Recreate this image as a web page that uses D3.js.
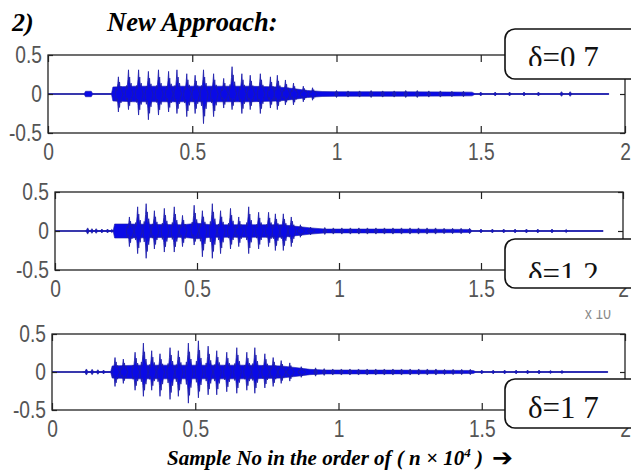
<!DOCTYPE html>
<html>
<head>
<meta charset="utf-8">
<script src="https://cdn.jsdelivr.net/npm/d3@7"></script>
<style>
  body { margin: 0; background: #fff; }
</style>
</head>
<body>
<svg id="chart" width="631" height="470"></svg>
<script>
// axis ticks (x in units of 10^4 samples)
const xTicks = [0, 0.5, 1, 1.5, 2]
const xTickLabels = ['0', '0.5', '1', '1.5', '2']
const yTicks = [-0.5, 0, 0.5]
const yTickLabels = ['-0.5', '0', '0.5']
const deltaLabels = ['δ=0 7', 'δ=1 2', 'δ=1 7']
const signalEnd = [1.944, 1.93, 1.94]

// delta = 0.7 : core envelope, syllable peaks, small beads
const env1X = [0, 0.125, 0.13, 0.15, 0.155, 0.22, 0.225, 0.3, 0.4, 0.5, 0.6, 0.7, 0.8, 0.85, 0.9, 0.95, 1.0, 1.2, 1.4, 1.47, 1.48, 1.944]
const env1A = [0, 0, 0.035, 0.035, 0.004, 0.004, 0.09, 0.1, 0.1, 0.1, 0.1, 0.1, 0.09, 0.07, 0.045, 0.032, 0.03, 0.03, 0.026, 0.024, 0.004, 0.004]
const spike1X = [0.244, 0.279, 0.314, 0.348, 0.383, 0.418, 0.447, 0.481, 0.510, 0.539, 0.574, 0.609, 0.638, 0.672, 0.701, 0.736, 0.771, 0.795, 0.823, 0.851, 0.885, 0.917]
const spike1Up = [0.22, 0.31, 0.31, 0.29, 0.31, 0.29, 0.31, 0.26, 0.24, 0.31, 0.26, 0.2, 0.35, 0.26, 0.24, 0.26, 0.22, 0.24, 0.18, 0.14, 0.1, 0.08]
const spike1Down = [0.23, 0.2, 0.27, 0.33, 0.27, 0.23, 0.25, 0.29, 0.25, 0.38, 0.29, 0.18, 0.2, 0.25, 0.2, 0.25, 0.18, 0.2, 0.14, 0.14, 0.1, 0.08]
const bead1X = [1.0, 1.04, 1.08, 1.12, 1.16, 1.2, 1.24, 1.28, 1.32, 1.36, 1.4, 1.44, 1.5, 1.55, 1.6, 1.65, 1.7, 1.78, 1.81]
const bead1A = [0.045, 0.04, 0.04, 0.045, 0.04, 0.04, 0.045, 0.045, 0.04, 0.04, 0.035, 0.035, 0.025, 0.025, 0.025, 0.025, 0.025, 0.03, 0.03]

// delta = 1.2
const env2X = [0, 0.105, 0.11, 0.205, 0.21, 0.25, 0.45, 0.5, 0.55, 0.8, 0.85, 0.9, 0.95, 1.2, 1.46, 1.47, 1.93]
const env2A = [0, 0, 0.006, 0.006, 0.09, 0.09, 0.08, 0.1, 0.08, 0.08, 0.06, 0.04, 0.025, 0.025, 0.02, 0.004, 0.004]
const spike2X = [0.262, 0.291, 0.321, 0.350, 0.385, 0.420, 0.449, 0.490, 0.519, 0.554, 0.583, 0.618, 0.647, 0.682, 0.717, 0.752, 0.776, 0.804, 0.832, 0.864, 0.9]
const spike2Up = [0.18, 0.31, 0.35, 0.26, 0.29, 0.31, 0.2, 0.33, 0.26, 0.35, 0.26, 0.29, 0.18, 0.31, 0.24, 0.24, 0.22, 0.22, 0.18, 0.08, 0.05]
const spike2Down = [0.2, 0.29, 0.35, 0.23, 0.27, 0.27, 0.2, 0.18, 0.33, 0.35, 0.29, 0.23, 0.2, 0.29, 0.23, 0.2, 0.25, 0.25, 0.2, 0.08, 0.05]
const bead2X = [0.115, 0.13, 0.145, 0.165, 0.185, 0.2, 0.95, 0.98, 1.01, 1.04, 1.07, 1.10, 1.13, 1.16, 1.19, 1.22, 1.25, 1.28, 1.31, 1.34, 1.37, 1.40, 1.43, 1.46, 1.5, 1.54, 1.58, 1.62, 1.66, 1.7, 1.75, 1.8]
const bead2A = [0.04, 0.03, 0.03, 0.025, 0.025, 0.02, 0.045, 0.04, 0.04, 0.04, 0.04, 0.04, 0.04, 0.04, 0.04, 0.04, 0.04, 0.04, 0.04, 0.04, 0.035, 0.035, 0.035, 0.035, 0.025, 0.025, 0.025, 0.025, 0.025, 0.025, 0.025, 0.02]

// delta = 1.7
const env3X = [0, 0.105, 0.11, 0.205, 0.21, 0.3, 0.5, 0.7, 0.8, 0.87, 0.9, 0.95, 1.2, 1.47, 1.48, 1.94]
const env3A = [0, 0, 0.005, 0.005, 0.08, 0.09, 0.09, 0.09, 0.08, 0.05, 0.035, 0.026, 0.025, 0.02, 0.004, 0.004]
const spike3X = [0.220, 0.249, 0.290, 0.319, 0.348, 0.377, 0.412, 0.441, 0.476, 0.511, 0.545, 0.575, 0.610, 0.645, 0.680, 0.708, 0.743, 0.772, 0.80, 0.83, 0.87]
const spike3Up = [0.19, 0.17, 0.26, 0.38, 0.28, 0.24, 0.32, 0.28, 0.38, 0.41, 0.34, 0.28, 0.26, 0.32, 0.26, 0.32, 0.24, 0.19, 0.15, 0.12, 0.07]
const spike3Down = [0.19, 0.15, 0.24, 0.32, 0.24, 0.32, 0.36, 0.32, 0.41, 0.34, 0.30, 0.30, 0.26, 0.28, 0.24, 0.28, 0.21, 0.19, 0.15, 0.12, 0.07]
const bead3X = [0.12, 0.14, 0.16, 0.18, 0.92, 0.95, 0.98, 1.01, 1.04, 1.07, 1.10, 1.13, 1.16, 1.19, 1.22, 1.25, 1.28, 1.31, 1.34, 1.37, 1.40, 1.43, 1.46, 1.5, 1.54, 1.58, 1.62, 1.66, 1.7, 1.74, 1.78]
const bead3A = [0.04, 0.035, 0.03, 0.025, 0.055, 0.045, 0.04, 0.04, 0.04, 0.04, 0.04, 0.04, 0.04, 0.04, 0.04, 0.04, 0.04, 0.04, 0.04, 0.035, 0.035, 0.035, 0.035, 0.025, 0.025, 0.025, 0.025, 0.025, 0.025, 0.02, 0.02]

// outline of one syllable burst: [dx, fraction of peak]
const burstUp = [[-0.011, 0], [-0.007, 0.35], [-0.005, 0.2], [-0.002, 0.6], [0, 1], [0.002, 0.45], [0.004, 0.7], [0.006, 0.3], [0.009, 0.45], [0.012, 0.15], [0.016, 0]]
const burstDown = [[0.016, 0], [0.012, 0.2], [0.009, 0.5], [0.006, 0.35], [0.004, 0.75], [0.002, 0.5], [0, 1], [-0.002, 0.55], [-0.004, 0.25], [-0.007, 0.4], [-0.011, 0]]

function main() {
    let svg = d3.select('#chart')
    let defs = svg.append('defs')

    let panels = [
        {left: 48, top: 55, width: 577, height: 78, envX: env1X, envA: env1A, sX: spike1X, sUp: spike1Up, sDown: spike1Down, bX: bead1X, bA: bead1A},
        {left: 55, top: 192, width: 568, height: 78, envX: env2X, envA: env2A, sX: spike2X, sUp: spike2Up, sDown: spike2Down, bX: bead2X, bA: bead2A},
        {left: 52, top: 334, width: 573, height: 76, envX: env3X, envA: env3A, sX: spike3X, sUp: spike3Up, sDown: spike3Down, bX: bead3X, bA: bead3A}
    ]

    let narrow = function () {
        let w = this.getComputedTextLength()
        d3.select(this).attr('textLength', w * 0.8).attr('lengthAdjust', 'spacingAndGlyphs')
    }

    panels.forEach((p, k) => {
        let x = d3.scaleLinear().domain([0, 2]).range([p.left, p.left + p.width]),
            y = d3.scaleLinear().domain([-0.5, 0.5]).range([p.top + p.height, p.top])

        defs.append('clipPath').attr('id', 'clip' + k)
            .append('rect')
            .attr('x', p.left).attr('y', p.top)
            .attr('width', p.width).attr('height', p.height)

        let g = svg.append('g').attr('clip-path', 'url(#clip' + k + ')')

        g.append('line')
            .attr('x1', x(0)).attr('x2', x(signalEnd[k]))
            .attr('y1', y(0)).attr('y2', y(0))
            .attr('stroke', '#22229a').attr('stroke-width', 1.3)

        let area = d3.area()
            .x(i => x(p.envX[i]))
            .y0(i => y(-p.envA[i]))
            .y1(i => y(p.envA[i]))
        g.append('path')
            .attr('d', area(d3.range(p.envX.length)))
            .attr('fill', '#0a0ae6')
            .attr('stroke', '#1c1ca8').attr('stroke-width', 0.6)

        g.selectAll('path.bead')
            .data(d3.range(p.bX.length))
            .join('path')
            .attr('class', 'bead')
            .attr('d', i => 'M' + x(p.bX[i] - 0.006) + ',' + y(0)
                + 'L' + x(p.bX[i]) + ',' + y(p.bA[i])
                + 'L' + x(p.bX[i] + 0.006) + ',' + y(0)
                + 'L' + x(p.bX[i]) + ',' + y(-p.bA[i]) + 'Z')
            .attr('fill', '#1414c8')
            .attr('stroke', '#22229a').attr('stroke-width', 0.7)

        g.selectAll('path.spike')
            .data(d3.range(p.sX.length))
            .join('path')
            .attr('class', 'spike')
            .attr('d', i => {
                let pts = burstUp.map(b => [x(p.sX[i] + b[0]), y(p.sUp[i] * b[1])])
                    .concat(burstDown.map(b => [x(p.sX[i] + b[0]), y(-p.sDown[i] * b[1])]))
                return 'M' + pts.map(q => q.join(',')).join('L') + 'Z'
            })
            .attr('fill', '#0a0ae6')
            .attr('stroke', '#1c1ca8').attr('stroke-width', 0.8)

        // frame and inward ticks
        svg.append('rect')
            .attr('x', p.left).attr('y', p.top)
            .attr('width', p.width).attr('height', p.height)
            .attr('fill', 'none').attr('stroke', '#222').attr('stroke-width', 1.3)

        let bottom = svg.append('g')
            .attr('class', 'axis')
            .attr('transform', 'translate(0,' + (p.top + p.height) + ')')
            .call(d3.axisBottom(x).tickValues(xTicks).tickSize(-7).tickPadding(10)
                .tickFormat((d, i) => xTickLabels[i]))
        let top = svg.append('g')
            .attr('transform', 'translate(0,' + p.top + ')')
            .call(d3.axisTop(x).tickValues(xTicks).tickSize(-7).tickFormat(''))
        let left = svg.append('g')
            .attr('class', 'axis')
            .attr('transform', 'translate(' + p.left + ',0)')
            .call(d3.axisLeft(y).tickValues(yTicks).tickSize(-5).tickPadding(6)
                .tickFormat((d, i) => yTickLabels[i]))
        let right = svg.append('g')
            .attr('transform', 'translate(' + (p.left + p.width) + ',0)')
            .call(d3.axisRight(y).tickValues(yTicks).tickSize(-5).tickFormat(''))

        ;[bottom, top, left, right].forEach(a => {
            a.select('.domain').remove()
            a.selectAll('.tick line').attr('stroke', '#222').attr('stroke-width', 1.2)
        })
        ;[bottom, left].forEach(a => {
            a.selectAll('text')
                .attr('font-family', 'Liberation Sans, Arial, sans-serif')
                .attr('font-size', 24)
                .attr('fill', '#555')
                .each(narrow)
        })
    })

    // exponent label under the middle plot, mostly hidden
    defs.append('clipPath').attr('id', 'clipExp')
        .append('rect').attr('x', 570).attr('y', 310).attr('width', 61).attr('height', 12)
    svg.append('text')
        .attr('clip-path', 'url(#clipExp)')
        .attr('x', 585).attr('y', 319)
        .attr('font-family', 'Liberation Sans, Arial, sans-serif')
        .attr('font-size', 17).attr('fill', '#888')
        .text('x 10')
        .each(narrow)

    // delta boxes
    let boxes = [
        {x: 505, y: 29, h: 50, base: 68, clipY: 66},
        {x: 505, y: 239, h: 49, base: 284, clipY: 278},
        {x: 505, y: 379, h: 49, base: 418, clipY: 426}
    ]
    boxes.forEach((b, k) => {
        svg.append('rect')
            .attr('x', b.x).attr('y', b.y)
            .attr('width', 150).attr('height', b.h)
            .attr('rx', 10).attr('ry', 10)
            .attr('fill', '#fff').attr('stroke', '#111').attr('stroke-width', 1.6)
        defs.append('clipPath').attr('id', 'clipBox' + k)
            .append('rect').attr('x', b.x).attr('y', b.y).attr('width', 150).attr('height', b.clipY - b.y)
        svg.append('text')
            .attr('clip-path', 'url(#clipBox' + k + ')')
            .attr('x', 528).attr('y', b.base)
            .attr('font-family', 'Liberation Serif, Times New Roman, serif')
            .attr('font-size', 31).attr('fill', '#111')
            .text(deltaLabels[k])
    })

    // title
    let serif = 'Liberation Serif, Times New Roman, serif'
    svg.append('text')
        .attr('x', 12).attr('y', 31)
        .attr('font-family', serif).attr('font-size', 26)
        .attr('font-weight', 'bold').attr('font-style', 'italic')
        .text('2)')
    svg.append('text')
        .attr('x', 107).attr('y', 31)
        .attr('font-family', serif).attr('font-size', 26.5)
        .attr('font-weight', 'bold').attr('font-style', 'italic')
        .text('New Approach:')

    // x axis caption
    let cap = svg.append('text')
        .attr('x', 167).attr('y', 465)
        .attr('font-family', serif).attr('font-size', 21)
        .attr('font-weight', 'bold').attr('font-style', 'italic')
    cap.append('tspan').text('Sample No in the order of ( n × 10')
    cap.append('tspan').attr('dy', -8).attr('font-size', 13).text('4')
    cap.append('tspan').attr('dy', 8).text(' )')
    svg.append('text')
        .attr('x', 492).attr('y', 466)
        .attr('font-family', 'DejaVu Sans, sans-serif').attr('font-size', 25)
        .attr('font-weight', 'bold')
        .text('➔')
}

main()
</script>
</body>
</html>
